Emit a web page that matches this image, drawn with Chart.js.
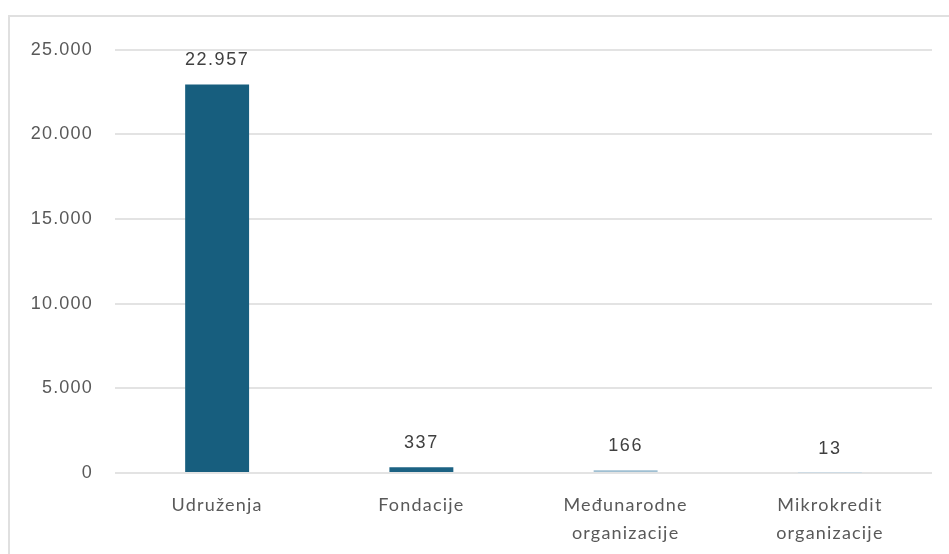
<!DOCTYPE html>
<html>
<head>
<meta charset="utf-8">
<script src="https://cdn.jsdelivr.net/npm/chart.js@4.4.1/dist/chart.umd.min.js"></script>
<style>
    html, body { margin: 0; padding: 0; background: #ffffff; overflow: hidden; }
    #frame {
        position: absolute;
        left: 8px;
        top: 15px;
        width: 960px;
        height: 560px;
        border: 2px solid #e0e0e0;
        box-sizing: border-box;
    }
    #wrap {
        position: absolute;
        left: 0px;
        top: 0px;
        width: 940px;
        height: 538px;
    }
</style>
</head>
<body>
<div id="frame">
    <div id="wrap"><canvas id="orgChart"></canvas></div>
</div>
<script>
const kategorije = ["Udruženja", "Fondacije", ["Međunarodne", "organizacije"], ["Mikrokredit", "organizacije"]];
const brojOrganizacija = [22957, 337, 166, 13];
const bojeStubova = ['#175e7e', '#1c6283', '#9fbfd2', '#c7d9e4'];

function formatBroj(n) {
    return String(n).replace(/\B(?=(\d{3})+(?!\d))/g, '.');
}

// razmak izmedju slova za sav tekst
const razmakPlugin = {
    id: 'razmak',
    beforeDraw(chart) {
        chart.ctx.save();
        chart.ctx.letterSpacing = '1.2px';
    },
    afterDraw(chart) {
        chart.ctx.restore();
    }
};

// ispis vrijednosti iznad stubova
const vrijednostiPlugin = {
    id: 'vrijednosti',
    afterDatasetsDraw(chart) {
        const ctx = chart.ctx;
        const meta = chart.getDatasetMeta(0);
        ctx.save();
        ctx.letterSpacing = '1.5px';
        ctx.font = '18px "Liberation Sans", Arial, sans-serif';
        ctx.fillStyle = '#404040';
        ctx.textAlign = 'center';
        ctx.textBaseline = 'middle';
        meta.data.forEach((bar, i) => {
            ctx.fillText(formatBroj(brojOrganizacija[i]), bar.x, bar.y - 24);
        });
        ctx.restore();
    }
};

const podaci = {
    labels: kategorije,
    datasets: [{
        data: brojOrganizacija,
        backgroundColor: bojeStubova,
        borderWidth: 0,
        barPercentage: 0.313,
        categoryPercentage: 1
    }]
};

const config = {
    type: 'bar',
    data: podaci,
    plugins: [razmakPlugin, vrijednostiPlugin],
    options: {
        responsive: true,
        maintainAspectRatio: false,
        animation: false,
        layout: {
            padding: { top: 18, right: 18, left: 0, bottom: 0 }
        },
        plugins: {
            legend: { display: false },
            tooltip: { enabled: false }
        },
        scales: {
            x: {
                grid: { display: false },
                border: { display: false },
                ticks: {
                    color: '#595959',
                    padding: 10,
                    maxRotation: 0,
                    autoSkip: false,
                    font: { family: 'Lato, "DejaVu Sans", sans-serif', size: 18, lineHeight: 1.55 }
                },
                afterFit(scale) { scale.height = 82; }
            },
            y: {
                min: 0,
                max: 25000,
                grid: { color: '#e3e3e3', lineWidth: 2, drawTicks: false },
                border: { display: false },
                ticks: {
                    stepSize: 5000,
                    padding: 22,
                    color: '#595959',
                    font: { family: '"Liberation Sans", Arial, sans-serif', size: 18 },
                    callback: v => formatBroj(v)
                },
                afterFit(scale) { scale.width = 105; }
            }
        }
    }
};

const stubChart = new Chart(document.getElementById("orgChart"), config);
</script>
</body>
</html>
